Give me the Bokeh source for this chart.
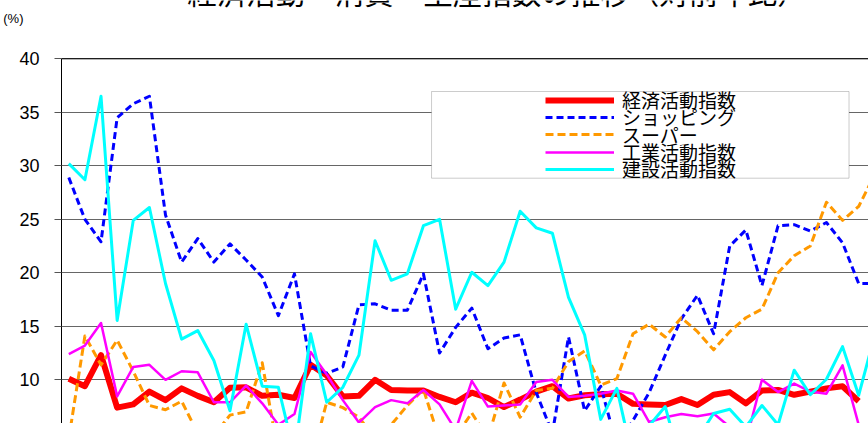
from bokeh.plotting import figure
from bokeh.models import (Range1d, FixedTicker, Span, BoxAnnotation, Legend,
                          LegendItem, Label, LinearAxis)
from bokeh.embed import file_html
from bokeh.resources import INLINE

nan = float("nan")

# ---------------- data ----------------
months = list(range(51))

keizai = [10.1, 9.4, 12.3, 7.4, 7.7, 8.9, 8.1, 9.2, 8.5, 7.9,
          9.25, 9.3, 8.5, 8.6, 8.3, 11.4, 10.4, 8.45, 8.5, 10.0,
          9.05, 9.0, 9.0, 8.4, 7.9, 8.8, 8.3, 7.45, 8.15, 8.9,
          9.4, 8.25, 8.55, 8.65, 8.7, 7.75, 7.7, 7.65, 8.2, 7.65,
          8.6, 8.85, 7.8, 9.0, 9.05, 8.6, 8.9, 9.2, 9.4, 8.0, nan]

shopping = [28.9, 25.0, 22.9, 34.5, 35.8, 36.5, 25.4, 21.0, 23.2, 21.0,
            22.7, 21.2, 19.6, 16.0, 19.9, 11.3, 10.6, 11.2, 17.0, 17.1,
            16.5, 16.5, 19.9, 12.5, 14.9, 16.7, 12.9, 13.9, 14.2, 8.8,
            5.0, 14.0, 7.1, 9.4, 3.8, 6.2, 8.8, 12.3, 15.7, 17.9,
            14.3, 22.5, 24.0, 18.8, 24.4, 24.5, 23.9, 24.7, 22.8, 19.0, 19.0]

supermarket = [4.5, 14.1, 11.4, 13.7, 10.8, 7.6, 7.2, 8.0, 5.0, 4.8,
               6.7, 7.0, 11.6, 3.0, 2.5, 2.2, 7.9, 7.4, 6.5, 4.5,
               5.8, 7.6, 9.1, 4.4, 4.7, 6.9, 4.5, 9.7, 6.5, 9.0,
               9.2, 11.7, 12.7, 9.5, 10.1, 14.3, 15.2, 14.0, 15.8, 14.5,
               12.8, 14.5, 15.8, 16.6, 20.0, 21.6, 22.5, 26.6, 24.9, 26.2, 29.2]

kogyo = [12.4, 13.2, 15.3, 8.45, 11.2, 11.4, 10.0, 10.8, 10.7, 7.9,
         7.9, 9.45, 7.8, 5.8, 6.8, 12.6, 10.5, 8.1, 6.0, 7.45,
         8.1, 7.8, 9.05, 7.7, 5.3, 9.9, 7.5, 7.6, 7.7, 9.8,
         10.0, 8.4, 8.5, 8.7, 9.0, 8.7, 6.05, 6.5, 6.8, 6.6,
         6.85, 5.6, 4.2, 10.0, 8.85, 9.65, 8.9, 8.7, 11.35, 5.8, nan]

kensetsu = [30.2, 28.7, 36.5, 15.55, 24.9, 26.1, 19.0, 13.8, 14.6, 11.8,
            7.1, 15.2, 9.4, 9.3, 3.0, 14.3, 7.9, 9.3, 12.3, 23.0,
            19.3, 19.9, 24.4, 25.0, 16.6, 20.05, 18.8, 21.0, 25.75, 24.2,
            23.7, 17.7, 14.2, 6.3, 9.2, 2.5, 5.7, 7.5, 2.0, 4.5,
            6.85, 7.25, 5.6, 7.6, 5.8, 10.9, 8.6, 10.05, 13.1, 8.55, 14.2]

series_names = ["経済活動指数", "ショッピング", "スーパー", "工業活動指数", "建設活動指数"]
y_ticks = [10, 15, 20, 25, 30, 35, 40]
title_text = "経済活動・消費・生産指数の推移（対前年比）"
unit_text = "(%)"

# ---------------- layout (pixels) ----------------
W, H = 868, 423
BL = 60                       # frame left edge
FW, FH = W - BL, H
PX_PER_X = 16.14
PX_PER_Y = 10.7
FIRST_X_PX = 67.3             # x of first month
TOP40_PX = 58.3               # y of the 40 line
X0 = -(FIRST_X_PX - BL) / PX_PER_X
X1 = X0 + FW / PX_PER_X
YTOP = 40 + TOP40_PX / PX_PER_Y
Y0 = YTOP - FH / PX_PER_Y


def cx(px):
    return X0 + (px - BL) / PX_PER_X


def cy(py):
    return YTOP - py / PX_PER_Y


p = figure(width=W, height=H, x_range=Range1d(X0, X1), y_range=Range1d(Y0, YTOP),
           output_backend="svg", toolbar_location=None,
           min_border_left=BL, min_border_right=0, min_border_top=0,
           min_border_bottom=0)
try:
    p.title_location = None
except Exception:
    p.title.visible = False
p.outline_line_color = None
p.background_fill_color = "white"
p.border_fill_color = "white"
p.xaxis.visible = False
p.xgrid.visible = False

yax = p.left[0]
yax.ticker = FixedTicker(ticks=y_ticks)
yax.bounds = (Y0, 40)
yax.axis_line_color = "black"
yax.major_tick_out = 7
yax.major_tick_in = 0
yax.major_tick_line_color = "#555555"
yax.minor_tick_line_color = None
yax.major_label_standoff = 15
yax.major_label_text_font = "Liberation Sans"
yax.major_label_text_font_size = "18px"
yax.major_label_text_color = "black"

p.ygrid.ticker = FixedTicker(ticks=y_ticks)
p.ygrid.grid_line_color = "#666666"

# unit label "(%)" as the single tick label of an outer left axis
unit_pos = cy(18)
uax = LinearAxis(ticker=FixedTicker(ticks=[unit_pos]),
                 major_label_overrides={unit_pos: unit_text},
                 axis_line_color=None, major_tick_line_color=None,
                 minor_tick_line_color=None, major_tick_in=0, major_tick_out=0,
                 major_label_standoff=-7, major_label_text_font="Liberation Sans",
                 major_label_text_font_size="13px", major_label_text_color="black")
p.add_layout(uax, "left")

p.add_layout(Span(location=40, dimension="width", line_color="black", line_width=1))

styles = [
    dict(color="#FF0000", line_width=6, line_dash="solid"),
    dict(color="#0000FF", line_width=3, line_dash="7 4"),
    dict(color="#FF9900", line_width=3, line_dash="8 4"),
    dict(color="#FF00FF", line_width=2.5, line_dash="solid"),
    dict(color="#00FFFF", line_width=3, line_dash="solid"),
]
renderers = []
for ys, st in zip([keizai, shopping, supermarket, kogyo, kensetsu], styles):
    r = p.line(months, ys, line_color=st["color"], line_width=st["line_width"],
               line_dash=st["line_dash"], line_join="round")
    renderers.append(r)

# legend frame
box = BoxAnnotation(left=cx(430.5), right=cx(848.5), top=cy(91), bottom=cy(177.7),
                    fill_color="white", fill_alpha=1.0,
                    line_color="#555555", line_width=1, level="annotation")
p.add_layout(box)

ITEM_H = 26
row_centers = [100.0, 117.33, 134.67, 152.0, 169.33]
for name, r, c in zip(series_names, renderers, row_centers):
    lg = Legend(items=[LegendItem(label=name, renderers=[r])],
                location=(484, H - (c + ITEM_H / 2)), orientation="vertical",
                padding=0, spacing=0, margin=0,
                glyph_width=69, glyph_height=ITEM_H, label_height=ITEM_H,
                label_standoff=8,
                label_text_font="Noto Sans CJK JP", label_text_font_size="19px",
                label_text_color="black",
                border_line_color=None, background_fill_alpha=0)
    p.add_layout(lg)

p.add_layout(Label(x=cx(496), y=cy(11.5), text=title_text, text_align="center",
                   text_baseline="bottom", text_font="Noto Sans CJK JP",
                   text_font_size="29.5px", text_color="black"))

open("out.html", "w").write(file_html(p, INLINE))
